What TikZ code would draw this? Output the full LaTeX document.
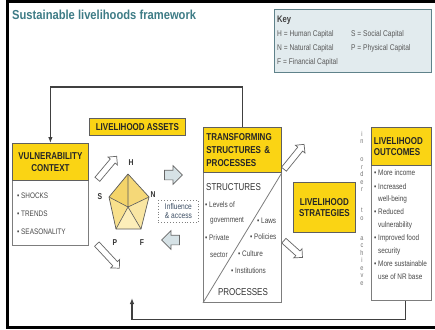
\documentclass[tikz,border=0pt]{standalone}
\usepackage{fontspec}
\setmainfont{Liberation Sans}
\newfontfamily\cond{Liberation Sans}[FakeStretch=0.8]
\newfontfamily\titlefont{Liberation Sans}[FakeStretch=0.86]
\usetikzlibrary{shapes.arrows,arrows.meta}
\definecolor{ylw}{RGB}{250,212,20}
\definecolor{hdrborder}{RGB}{95,95,95}
\definecolor{bodyborder}{RGB}{125,125,125}
\definecolor{titleteal}{RGB}{62,124,134}
\definecolor{keyfill}{RGB}{226,235,238}
\definecolor{keyborder}{RGB}{95,130,138}
\definecolor{arrowfill}{RGB}{214,226,230}
\definecolor{pentA}{RGB}{244,212,105}
\definecolor{pentB}{RGB}{248,224,140}
\definecolor{pentC}{RGB}{252,238,185}
\definecolor{infltext}{RGB}{60,78,100}
\tikzset{
  hdr/.style={draw=hdrborder, fill=ylw, line width=0.8pt, inner sep=0pt,
    font=\cond\bfseries\fontsize{10}{11.5}\selectfont, text=black!85},
  bodybox/.style={draw=bodyborder, fill=white, line width=0.8pt, inner sep=0pt},
  txt/.style={font=\cond\fontsize{8}{9}\selectfont, text=black!72, inner sep=0pt, anchor=west},
  bigtxt/.style={font=\cond\fontsize{10}{12}\selectfont, text=black!80, inner sep=0pt},
  keytxt/.style={font=\cond\fontsize{8.3}{9}\selectfont, text=black!65, inner sep=0pt, anchor=west},
  pentlbl/.style={font=\cond\bfseries\fontsize{8.5}{10}\selectfont, text=black!80, inner sep=0pt},
  harrow/.style={single arrow, draw=black!60, fill=arrowfill, line width=0.7pt,
    inner sep=4.5pt, single arrow head extend=4.5pt, minimum height=18pt},
  darrow/.style={single arrow, draw=black!60, fill=white, line width=0.7pt,
    inner sep=2.8pt, single arrow head extend=3pt, minimum height=30pt},
  flow/.style={draw=black!75, line width=1.1pt, -{Latex[length=6pt,width=4.5pt]}}
}
\begin{document}
\begin{tikzpicture}[x=1pt,y=-1pt]
\useasboundingbox (0,0) rectangle (435,329);
\fill[white] (0,0) rectangle (435,329);
% frame
\fill[black] (6,0) rectangle (8.5,329);
\fill[black] (6,0) rectangle (435,2.7);
\fill[black] (6,326.3) rectangle (435,329);
% title
\node[anchor=west, inner sep=0pt, font=\titlefont\bfseries\fontsize{13}{15}\selectfont, text=titleteal] (title) at (12,15) {Sustainable livelihoods framework};
% key
\node[draw=keyborder, fill=keyfill, line width=1pt, minimum width=157pt, minimum height=63pt, anchor=north west, inner sep=0pt] (key) at (274,9) {};
\node[keytxt, font=\cond\bfseries\fontsize{9.5}{11}\selectfont, text=black!75] (keyt) at (277,20) {Key};
\node[keytxt] (kh) at (277,34) {H = Human Capital};
\node[keytxt] (kn) at (277,48) {N = Natural Capital};
\node[keytxt] (kf) at (277,62) {F = Financial Capital};
\node[keytxt] (ks) at (351,34) {S = Social Capital};
\node[keytxt] (kp) at (351,48) {P = Physical Capital};
% vulnerability
\node[bodybox, minimum width=76pt, minimum height=102pt, anchor=north west] (vul) at (12,143) {};
\node[hdr, minimum width=76pt, minimum height=37pt, anchor=north west, align=center] (vulh) at (12,143) {VULNERABILITY\\CONTEXT};
\node[txt] (shocks) at (17,196) {\textbullet\ SHOCKS};
\node[txt] (trends) at (17,214) {\textbullet\ TRENDS};
\node[txt] (season) at (17,232) {\textbullet\ SEASONALITY};
% assets
\node[hdr, minimum width=96pt, minimum height=17pt, anchor=north west] (assets) at (89,118) {LIVELIHOOD ASSETS};
% pentagon
\coordinate (pH) at (128,174);
\coordinate (pS) at (109,197);
\coordinate (pN) at (149,197);
\coordinate (pP) at (116,229);
\coordinate (pF) at (141,229);
\coordinate (pC) at (128,207);
\fill[pentA] (pH)--(pS)--(pC)--cycle;
\fill[pentA!90!white] (pH)--(pN)--(pC)--cycle;
\fill[pentB] (pS)--(pP)--(pC)--cycle;
\fill[pentC] (pP)--(pF)--(pC)--cycle;
\fill[pentB!80!white] (pN)--(pF)--(pC)--cycle;
\draw[black!65, line width=0.7pt, line join=round] (pH)--(pN)--(pF)--(pP)--(pS)--cycle;
\draw[black!65, line width=0.6pt] (pC)--(pH) (pC)--(pN) (pC)--(pF) (pC)--(pP) (pC)--(pS);
\node[pentlbl] (lH) at (131,163) {H};
\node[pentlbl] (lS) at (100,197) {S};
\node[pentlbl] (lN) at (153,195) {N};
\node[pentlbl] (lP) at (115,243) {P};
\node[pentlbl] (lF) at (142,243) {F};
% influence
\node[draw=black!50, dotted, line width=0.9pt, minimum width=40pt, minimum height=22pt, anchor=north west, inner sep=1.5pt, align=left, font=\cond\fontsize{8.3}{9}\selectfont, text=infltext] (infl) at (158,200) {Influence\\\& access};
% arrows
\node[harrow] (a1) at (171,175) {};
\node[harrow, shape border rotate=180] (a2) at (173,240) {};
\node[darrow, rotate=50] (d1) at (106,169) {};
\node[darrow, rotate=-47, minimum height=33pt] (d2) at (107,255) {};
\node[darrow, rotate=51, minimum height=32pt] (d3) at (293,158) {};
\node[darrow, rotate=-42, minimum height=25pt] (d4) at (292,248) {};
% transforming
\node[bodybox, minimum width=78pt, minimum height=175pt, anchor=north west] (trans) at (203,127) {};
\node[hdr, minimum width=78pt, minimum height=45pt, anchor=north west, align=left, text width=72pt, font=\cond\bfseries\fontsize{10}{13}\selectfont] (transh) at (203,127) {TRANSFORMING\\STRUCTURES \&\\PROCESSES};
\draw[bodyborder, line width=0.8pt] (trans.south west) -- (transh.south east);
\node[bigtxt, anchor=west] (structs) at (206,187) {STRUCTURES};
\node[bigtxt] (procs) at (243,292) {PROCESSES};
\node[txt] (lev) at (205,205) {\textbullet\ Levels of};
\node[txt] (gov) at (210,221) {government};
\node[txt] (priv) at (205,238) {\textbullet\ Private};
\node[txt] (sect) at (210,255) {sector};
\node[txt] (laws) at (257,221) {\textbullet\ Laws};
\node[txt] (pol) at (250,237) {\textbullet\ Policies};
\node[txt] (cult) at (238,254) {\textbullet\ Culture};
\node[txt] (inst) at (231,271) {\textbullet\ Institutions};
% strategies
\node[hdr, minimum width=62pt, minimum height=50pt, anchor=north west, align=center] (strat) at (293,182) {LIVELIHOOD\\STRATEGIES};
% vertical text
\node[inner sep=0pt, align=center, font=\cond\fontsize{7}{7.5}\selectfont, text=black!55] (inorder) at (362,208) {i\\n\\[10.5pt]o\\r\\d\\e\\r\\[13.5pt]t\\o\\[12.5pt]a\\c\\h\\i\\e\\v\\e};
% outcomes
\node[bodybox, minimum width=60pt, minimum height=173pt, anchor=north west] (out) at (371,127) {};
\node[hdr, minimum width=60pt, minimum height=38pt, anchor=north west, align=left, text width=55pt] (outh) at (371,127) {LIVELIHOOD\\OUTCOMES};
\node[txt] (o1) at (374,173) {\textbullet\ More income};
\node[txt] (o2) at (374,187) {\textbullet\ Increased};
\node[txt] (o3) at (378,199) {well-being};
\node[txt] (o4) at (374,212) {\textbullet\ Reduced};
\node[txt] (o5) at (378,225) {vulnerability};
\node[txt] (o6) at (374,238) {\textbullet\ Improved food};
\node[txt] (o7) at (378,251) {security};
\node[txt] (o8) at (374,264) {\textbullet\ More sustainable};
\node[txt] (o9) at (378,277) {use of NR base};
% feedback loops
\coordinate (topy) at (0,87);
\draw[flow] (transh.north) -- (transh.north |- topy) -| (vulh.north);
\coordinate (botend) at (132,298);
\draw[flow] ([xshift=4pt]out.south) -- ++(0,19) -| (botend);
\end{tikzpicture}
\end{document}
